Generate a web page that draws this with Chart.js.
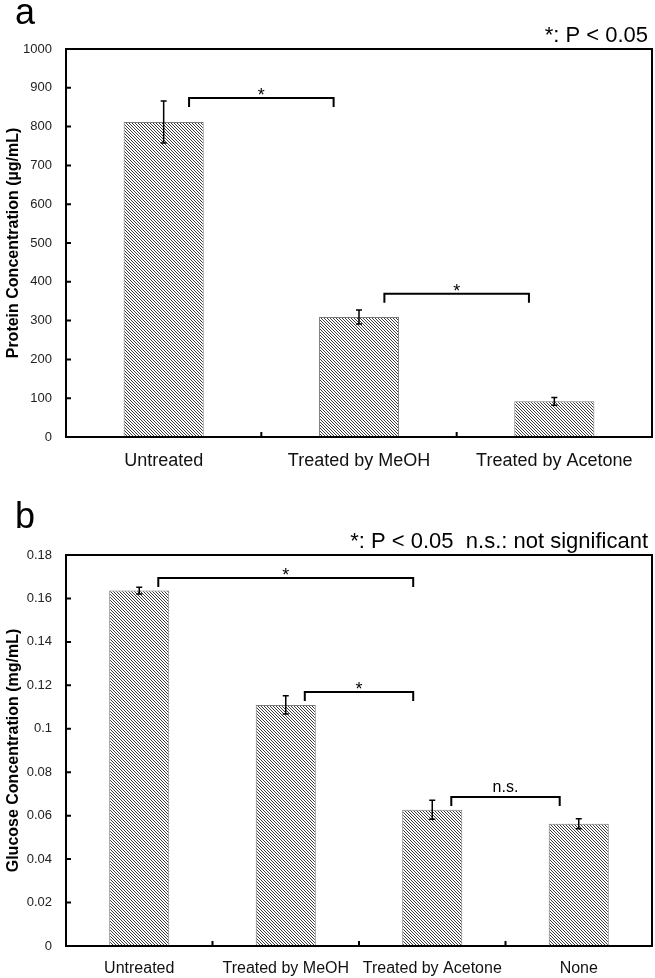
<!DOCTYPE html>
<html>
<head>
<meta charset="utf-8">
<script src="https://cdn.jsdelivr.net/npm/chart.js@4.4.0/dist/chart.umd.min.js"></script>
<style>
  body { margin: 0; background: #fff; }
  #wrap { position: relative; width: 655px; height: 978px; }
  canvas { position: absolute; left: 0; }
</style>
</head>
<body>
<div id="wrap">
  <canvas id="chartA" width="655" height="490" style="top:0"></canvas>
  <canvas id="chartB" width="655" height="488" style="top:490px"></canvas>
</div>
<script>
// panel a
const labelsA = ['Untreated', 'Treated by MeOH', 'Treated by Acetone'];
const proteinValues = [812, 309, 92];
const proteinErrors = [54, 18, 10];
const bracketsA = [[0, 1, '*'], [1, 2, '*']];
const bracketLevelsA = [874, 369];

// panel b
const labelsB = ['Untreated', 'Treated by MeOH', 'Treated by Acetone', 'None'];
const glucoseValues = [0.1636, 0.111, 0.0627, 0.0563];
const glucoseErrors = [0.0016, 0.0042, 0.0044, 0.0023];
const bracketsB = [[0, 2, '*'], [1, 2, '*'], [2, 3, 'n.s.']];
const bracketLevelsB = [0.1694, 0.1169, 0.0686];

const FONT = "'Liberation Sans', Arial, sans-serif";

// diagonal hatch fill for the bars
function hatch(ctx) {
  const c = document.createElement('canvas');
  c.width = c.height = 3;
  const g = c.getContext('2d');
  g.fillStyle = '#fff';
  g.fillRect(0, 0, 3, 3);
  g.strokeStyle = '#3c3c3c';
  g.lineWidth = 1;
  g.beginPath();
  g.moveTo(-1, -1); g.lineTo(4, 4);
  g.moveTo(2, -1); g.lineTo(4, 1);
  g.moveTo(-1, 2); g.lineTo(1, 4);
  g.stroke();
  return ctx.createPattern(c, 'repeat');
}

function extras(errors, brackets, levels, letter, note, letterY, noteY) {
  return {
    id: 'extras',
    afterDatasetsDraw(chart) {
      const ctx = chart.ctx, a = chart.chartArea;
      const x = chart.scales.x, y = chart.scales.y;
      const values = chart.data.datasets[0].data;
      ctx.save();
      ctx.strokeStyle = '#000';
      ctx.fillStyle = '#000';

      // error bars
      ctx.lineWidth = 1.5;
      chart.getDatasetMeta(0).data.forEach((bar, i) => {
        const top = y.getPixelForValue(values[i] + errors[i]);
        const bot = y.getPixelForValue(values[i] - errors[i]);
        ctx.beginPath();
        ctx.moveTo(bar.x, top); ctx.lineTo(bar.x, bot);
        ctx.moveTo(bar.x - 3, top); ctx.lineTo(bar.x + 3, top);
        ctx.moveTo(bar.x - 3, bot); ctx.lineTo(bar.x + 3, bot);
        ctx.stroke();
      });

      // frame and inner ticks
      ctx.lineWidth = 2;
      ctx.strokeRect(a.left, a.top, a.right - a.left, a.bottom - a.top);
      ctx.beginPath();
      y.ticks.forEach((t, i) => {
        const py = y.getPixelForTick(i);
        ctx.moveTo(a.left, py); ctx.lineTo(a.left + 5, py);
      });
      for (let i = 1; i < chart.data.labels.length; i++) {
        const px = (x.getPixelForValue(i - 1) + x.getPixelForValue(i)) / 2;
        ctx.moveTo(px, a.bottom); ctx.lineTo(px, a.bottom - 5);
      }
      ctx.stroke();

      // significance brackets
      const off = 0.13 * (x.getPixelForValue(1) - x.getPixelForValue(0));
      brackets.forEach(([i, j, txt], k) => {
        const x1 = x.getPixelForValue(i) + off;
        const x2 = x.getPixelForValue(j) - off;
        const py = y.getPixelForValue(levels[k]);
        ctx.lineWidth = 2;
        ctx.beginPath();
        ctx.moveTo(x1, py + 9); ctx.lineTo(x1, py); ctx.lineTo(x2, py); ctx.lineTo(x2, py + 9);
        ctx.stroke();
        ctx.textAlign = 'center';
        ctx.textBaseline = 'alphabetic';
        if (txt === '*') {
          ctx.font = '18px ' + FONT;
          ctx.fillText(txt, (x1 + x2) / 2, py + 3);
        } else {
          ctx.font = '16px ' + FONT;
          ctx.fillText(txt, (x1 + x2) / 2, py - 5);
        }
      });

      // panel letter and note
      ctx.textBaseline = 'alphabetic';
      ctx.textAlign = 'left';
      ctx.font = '36px ' + FONT;
      ctx.fillText(letter, 15, letterY);
      ctx.textAlign = 'right';
      ctx.font = '22px ' + FONT;
      ctx.fillText(note, 648, noteY);
      ctx.restore();
    }
  };
}

function makeChart(id, labels, values, errors, brackets, levels, opts) {
  const ctx = document.getElementById(id).getContext('2d');
  return new Chart(ctx, {
    type: 'bar',
    data: {
      labels: labels,
      datasets: [{
        data: values,
        backgroundColor: hatch(ctx),
        borderColor: '#7a7a7a',
        borderWidth: 1,
        barPercentage: 0.41,
        categoryPercentage: 1
      }]
    },
    options: {
      responsive: false,
      animation: false,
      layout: { padding: { top: opts.top, right: 3, left: 0, bottom: 0 } },
      plugins: { legend: { display: false }, tooltip: { enabled: false } },
      scales: {
        x: {
          grid: { display: false, drawTicks: false },
          border: { display: false },
          ticks: { color: '#111', font: { family: FONT, size: opts.xFont }, padding: opts.xPad, maxRotation: 0, autoSkip: false },
          afterFit: s => { s.height = opts.xHeight; }
        },
        y: {
          min: 0,
          max: opts.max,
          grid: { display: false, drawTicks: false },
          border: { display: false },
          ticks: {
            stepSize: opts.step,
            color: '#222',
            padding: 14,
            font: { family: FONT, size: 13 },
            callback: v => String(+v.toFixed(2))
          },
          title: {
            display: true,
            text: opts.title,
            color: '#000',
            padding: { top: 4, bottom: 0 },
            font: { family: FONT, size: 16, weight: 'bold' }
          },
          afterFit: s => { s.width = 66; }
        }
      }
    },
    plugins: [extras(errors, brackets, levels, opts.letter, opts.note, opts.letterY, opts.noteY)]
  });
}

makeChart('chartA', labelsA, proteinValues, proteinErrors, bracketsA, bracketLevelsA, {
  top: 49, xHeight: 53, xFont: 18, xPad: 13, max: 1000, step: 100,
  title: 'Protein Concentration (\u00b5g/mL)',
  letter: 'a', letterY: 24, note: '*: P < 0.05', noteY: 42
});

makeChart('chartB', labelsB, glucoseValues, glucoseErrors, bracketsB, bracketLevelsB, {
  top: 65, xHeight: 32, xFont: 16, xPad: 13, max: 0.18, step: 0.02,
  title: 'Glucose Concentration (mg/mL)',
  letter: 'b', letterY: 38, note: '*: P < 0.05  n.s.: not significant', noteY: 58
});
</script>
</body>
</html>
